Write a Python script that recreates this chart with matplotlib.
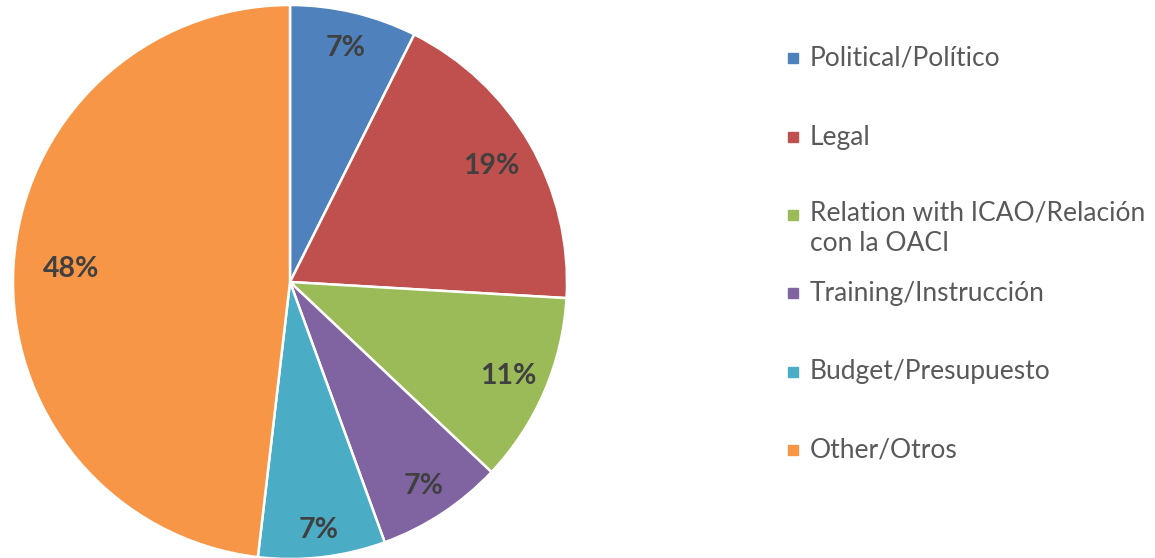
import numpy as np
import matplotlib.pyplot as plt
from matplotlib.patches import Rectangle

# counts behind the percentages (2,5,3,2,2,13 of 27)
labels = ['Political/Político', 'Legal', 'Relation with ICAO/Relación\ncon la OACI',
          'Training/Instrucción', 'Budget/Presupuesto', 'Other/Otros']
counts = [2, 5, 3, 2, 2, 13]
colors = ['#4F81BD', '#C0504D', '#9BBB59', '#8064A2', '#4BACC6', '#F79646']

W, H = 1155, 558
fig = plt.figure(figsize=(W / 100, H / 100), dpi=100)

cx, cy, r = 290, 282, 277
ax = fig.add_axes([(cx - r) / W, (H - cy - r) / H, 2 * r / W, 2 * r / H])

wedges, texts, autotexts = ax.pie(
    counts, colors=colors, startangle=90, counterclock=False, radius=1,
    autopct='%1.0f%%', pctdistance=0.86,
    wedgeprops=dict(edgecolor='white', linewidth=1.8),
    textprops=dict(fontsize=20.5, fontweight='bold', color='#404040', family='Lato'))
ax.set_xlim(-1, 1)
ax.set_ylim(-1, 1)
ax.axis('off')

# label distances from centre, as Excel places them
pct_dist = [0.87, 0.84, 0.86, 0.88, 0.90, 0.79]
for t, w, d in zip(autotexts, wedges, pct_dist):
    a = np.deg2rad((w.theta1 + w.theta2) / 2)
    t.set_position((d * np.cos(a), d * np.sin(a)))

# legend
leg_y = [58, 137, 215, 293, 372, 450]
for lab, col, y in zip(labels, colors, leg_y):
    fig.patches.append(Rectangle((788 / W, (H - y - 5) / H), 10 / W, 10 / H,
                                 transform=fig.transFigure, color=col))
    if '\n' in lab:
        fig.text(810 / W, (H - y + 14) / H, lab, fontsize=19, color='#595959',
                 family='Lato', va='top', linespacing=1.25)
    else:
        fig.text(810 / W, (H - y) / H, lab, fontsize=19, color='#595959',
                 family='Lato', va='center')

fig.savefig('out.png', dpi=100)
